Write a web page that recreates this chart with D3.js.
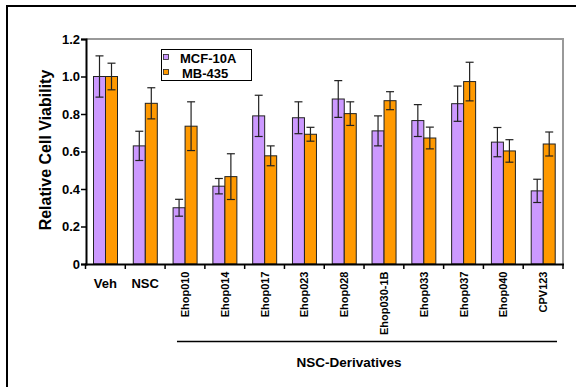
<!DOCTYPE html>
<html><head><meta charset="utf-8">
<script src="https://cdn.jsdelivr.net/npm/d3@7"></script>
<style>body{margin:0;background:#fff}svg{display:block;font-family:Arial,"Liberation Sans",sans-serif}</style>
</head><body><svg id="c" width="576" height="387"></svg>
<script>
const categories = ["Veh","NSC","Ehop010","Ehop014","Ehop017","Ehop023","Ehop028","Ehop030-1B","Ehop033","Ehop037","Ehop040","CPV123"];
const seriesNames = ["MCF-10A","MB-435"];
const mcf10a = [1.00,0.63,0.30,0.415,0.79,0.78,0.88,0.71,0.765,0.855,0.65,0.39];
const mcf10aErr = [0.11,0.078,0.045,0.041,0.11,0.085,0.098,0.08,0.085,0.094,0.078,0.062];
const mb435 = [1.00,0.857,0.735,0.466,0.577,0.692,0.802,0.871,0.672,0.973,0.603,0.64];
const mb435Err = [0.071,0.083,0.13,0.122,0.053,0.037,0.063,0.048,0.058,0.103,0.06,0.064];
const yTicks = [0,0.2,0.4,0.6,0.8,1.0,1.2];
const colors = ["#CC99FF","#FF9900"];

const svg = d3.select("#c");
// outer frame (only left/top visible)
svg.append("rect").attr("x",7).attr("y",6).attr("width",620).attr("height",420)
  .attr("fill","none").attr("stroke","#000").attr("stroke-width",2);

const x0 = d3.scaleBand().domain(categories).range([85.5,563]);
const x1 = d3.scaleBand().domain(seriesNames).range([8,32]).padding(0);
const y = d3.scaleLinear().domain([0,1.2]).range([264,39]);

// plot frame top/right gray
svg.append("path").attr("d",`M86,39H563V264`).attr("fill","none").attr("stroke","#999").attr("stroke-width",2);

const data = categories.map((c,i)=>({c, vals:[{s:seriesNames[0],v:mcf10a[i],e:mcf10aErr[i]},{s:seriesNames[1],v:mb435[i],e:mb435Err[i]}]}));
const g = svg.append("g").selectAll("g").data(data).join("g").attr("transform",d=>`translate(${x0(d.c)},0)`);
g.selectAll("rect").data(d=>d.vals).join("rect")
  .attr("x",d=>x1(d.s)).attr("width",x1.bandwidth()).attr("y",d=>y(d.v)).attr("height",d=>y(0)-y(d.v))
  .attr("fill",(d,i)=>colors[i]).attr("stroke","#222").attr("stroke-width",1);
const eb = g.selectAll("g.eb").data(d=>d.vals).join("g").attr("class","eb")
  .attr("transform",d=>`translate(${x1(d.s)+x1.bandwidth()/2},0)`);
eb.append("line").attr("y1",d=>y(d.v+d.e)).attr("y2",d=>y(d.v-d.e)).attr("stroke","#222").attr("stroke-width",1.2);
eb.append("line").attr("x1",-4).attr("x2",4).attr("y1",d=>y(d.v+d.e)).attr("y2",d=>y(d.v+d.e)).attr("stroke","#222").attr("stroke-width",1.2);
eb.append("line").attr("x1",-4).attr("x2",4).attr("y1",d=>y(d.v-d.e)).attr("y2",d=>y(d.v-d.e)).attr("stroke","#222").attr("stroke-width",1.2);

// y axis
const ya = svg.append("g").attr("transform","translate(86,0)")
  .call(d3.axisLeft(y).tickValues(yTicks).tickSize(5).tickFormat(d=>d===0?"0":d3.format(".1f")(d)));
ya.select(".domain").attr("stroke","#000").attr("stroke-width",2);
ya.selectAll(".tick line").attr("stroke","#000").attr("stroke-width",1.5);
ya.selectAll("text").attr("font-size",13).attr("font-weight","bold").attr("fill","#000").attr("x",-6);

// x axis
const tickPos = d3.range(categories.length+1).map(i=>x0.range()[0]+i*x0.step());
svg.append("line").attr("x1",85).attr("x2",564).attr("y1",264.5).attr("y2",264.5).attr("stroke","#000").attr("stroke-width",2);
svg.append("g").selectAll("line").data(tickPos).join("line")
  .attr("x1",d=>d).attr("x2",d=>d).attr("y1",264).attr("y2",269).attr("stroke","#000").attr("stroke-width",1.5);

const xl = svg.append("g").selectAll("text").data(categories).join("text")
  .attr("font-weight","bold").attr("fill","#000");
xl.each(function(d,i){
  const t = d3.select(this);
  const cx = x0(d)+x0.bandwidth()/2;
  if(i<2){
    t.attr("x",cx).attr("y",288).attr("text-anchor","middle").attr("font-size",13).text(d);
  } else {
    t.attr("transform",`translate(${cx+4},271.5) rotate(-90)`).attr("text-anchor","end").attr("font-size",11).text(d);
  }
});

// derivatives bracket
svg.append("line").attr("x1",x0(categories[2])+(x0.bandwidth()/2)-8).attr("x2",x0(categories[11])+x0.bandwidth()-6)
  .attr("y1",341.5).attr("y2",341.5).attr("stroke","#000").attr("stroke-width",1.3);
svg.append("text").attr("x",349).attr("y",366.5).attr("text-anchor","middle").attr("font-size",13.5).attr("font-weight","bold").text("NSC-Derivatives");

// y title
svg.append("text").attr("transform","translate(51,150) rotate(-90)").attr("text-anchor","middle")
  .attr("font-size",16).attr("font-weight","bold").text("Relative Cell Viability");

// legend
const lg = svg.append("g");
lg.append("rect").attr("x",161.5).attr("y",49.5).attr("width",90).attr("height",31).attr("fill","#fff").attr("stroke","#000").attr("stroke-width",1);
seriesNames.forEach((s,i)=>{
  lg.append("rect").attr("x",163.5).attr("y",54.5+i*15).attr("width",5).attr("height",5).attr("fill",colors[i]).attr("stroke","#222").attr("stroke-width",0.8);
  lg.append("text").attr("x",i===0?180:182).attr("y",62.5+i*15).attr("font-size",13).attr("font-weight","bold").text(s);
});
</script></body></html>
